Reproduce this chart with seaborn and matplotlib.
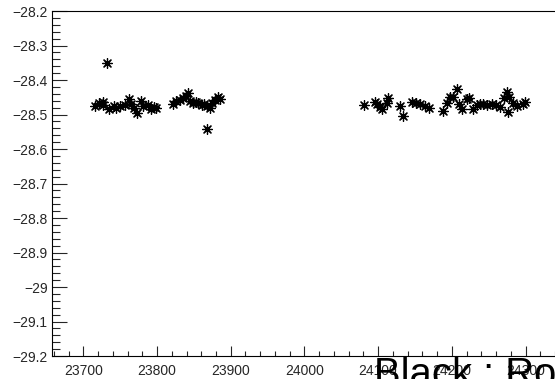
import numpy as np
import pandas as pd
import matplotlib
matplotlib.use("Agg")
import matplotlib.pyplot as plt
from matplotlib.ticker import MultipleLocator
import seaborn as sns

run_a = [23715.9, 23721.3, 23726.3, 23727.1, 23735.3, 23741.7, 23744.0, 23749.8,
         23756.6, 23762.4, 23764.3, 23768.8, 23772.5, 23778.3, 23781.4, 23788.2,
         23791.5, 23795.9, 23798.6, 23731.7]
val_a = [-28.474, -28.467, -28.465, -28.472, -28.484, -28.474, -28.482, -28.475,
         -28.472, -28.455, -28.470, -28.482, -28.497, -28.461, -28.474, -28.472,
         -28.484, -28.477, -28.482, -28.352]

run_b = [23822.1, 23825.8, 23831.2, 23834.9, 23839.3, 23842.5, 23844.8, 23849.3,
         23852.9, 23856.0, 23860.7, 23863.8, 23867.4, 23871.9, 23874.2, 23878.7,
         23883.2, 23885.5, 23867.4]
val_b = [-28.470, -28.461, -28.458, -28.453, -28.446, -28.439, -28.460, -28.468,
         -28.464, -28.468, -28.472, -28.470, -28.475, -28.482, -28.468, -28.458,
         -28.450, -28.455, -28.543]

run_c = [24080.7, 24095.6, 24098.9, 24102.5, 24105.7, 24112.5, 24113.8, 24129.7,
         24133.4, 24145.6, 24151.4, 24156.8, 24163.6, 24169.5]
val_c = [-28.472, -28.465, -28.470, -28.477, -28.484, -28.467, -28.451, -28.474,
         -28.503, -28.463, -28.468, -28.470, -28.474, -28.482]

run_d = [24188.5, 24193.9, 24197.6, 24202.0, 24206.6, 24210.2, 24213.4, 24220.2,
         24223.7, 24228.4, 24233.8, 24238.3, 24242.7, 24248.2, 24254.1, 24260.0,
         24265.4, 24270.8, 24275.3, 24278.0, 24276.7, 24283.4, 24288.9, 24296.2,
         24299.3]
val_d = [-28.489, -28.466, -28.448, -28.450, -28.427, -28.470, -28.485, -28.456,
         -28.453, -28.485, -28.472, -28.470, -28.470, -28.472, -28.470, -28.472,
         -28.477, -28.453, -28.434, -28.450, -28.492, -28.468, -28.475, -28.470,
         -28.463]

df = pd.DataFrame({"run": run_a + run_b + run_c + run_d,
                   "value": val_a + val_b + val_c + val_d})

sns.set_style("ticks")
plt.rcParams["font.family"] = ["Liberation Sans", "DejaVu Sans"]

fig = plt.figure(figsize=(5.55, 3.79), dpi=100)
ax = fig.add_axes([52 / 555, 23 / 379, 1 - 52 / 555, 345 / 379])

sns.scatterplot(x="run", y="value", data=df, ax=ax, marker=(8, 2, 0),
                s=50, color="black", edgecolor="black", linewidth=0.9, legend=False)

ax.set_xlim(23657.5, 24340)
ax.set_ylim(-29.2, -28.2)
ax.xaxis.set_major_locator(MultipleLocator(100))
ax.xaxis.set_minor_locator(MultipleLocator(20))
ax.yaxis.set_major_locator(MultipleLocator(0.1))
ax.yaxis.set_minor_locator(MultipleLocator(0.02))
ax.yaxis.set_major_formatter(plt.FuncFormatter(lambda v, p: f"{v:.1f}".rstrip("0").rstrip(".").replace("-", "\u2212")))
ax.tick_params(axis="y", which="major", direction="in", length=10.8, width=0.8, labelsize=10, pad=3)
ax.tick_params(axis="y", which="minor", direction="in", length=5.4, width=0.8)
ax.tick_params(axis="x", which="major", direction="in", length=7.2, width=0.8, labelsize=10, pad=6)
ax.tick_params(axis="x", which="minor", direction="in", length=3.6, width=0.8)
ax.set_xlabel("")
ax.set_ylabel("")
ax.spines["right"].set_visible(False)
for s in ["left", "bottom", "top"]:
    ax.spines[s].set_linewidth(0.8)
    ax.spines[s].set_color("black")

fig.text(374 / 555, -6.6 / 379, "Black : Ro", fontsize=28.8, color="black",
         va="baseline", ha="left", zorder=10)

fig.savefig("out.png", dpi=100)
